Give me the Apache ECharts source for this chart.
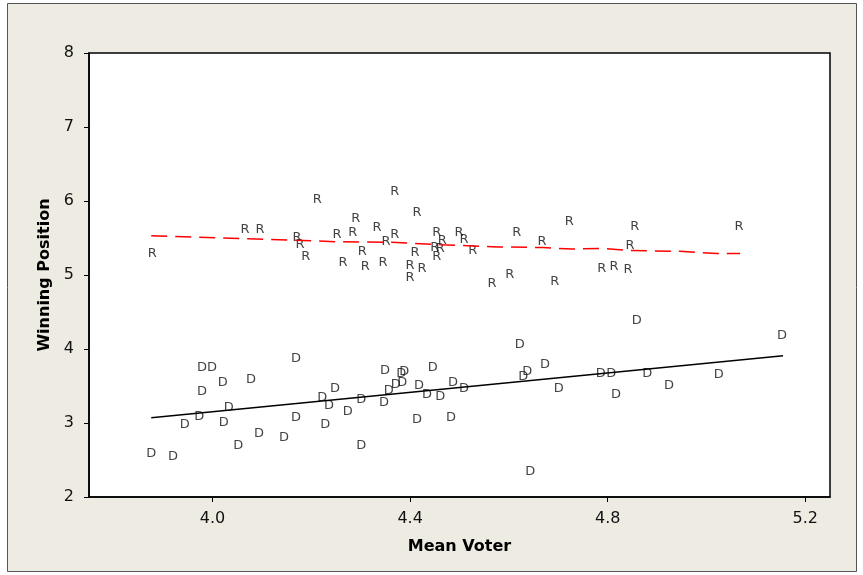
<!DOCTYPE html>
<html>
<head>
<meta charset="utf-8">
<script src="https://cdn.jsdelivr.net/npm/echarts@6/dist/echarts.min.js"></script>
<style>
html,body{margin:0;padding:0;background:#fff;}
#chart{width:863px;height:575px;}
</style>
</head>
<body>
<div id="chart"></div>
<script>
// Republican winning positions [mean voter, winning position]
const rPoints = [
  [3.878,5.29],[4.066,5.61],[4.096,5.61],[4.212,6.02],[4.171,5.51],[4.177,5.41],[4.189,5.25],
  [4.252,5.55],[4.290,5.76],[4.284,5.57],[4.264,5.17],[4.303,5.32],[4.309,5.11],[4.333,5.64],
  [4.351,5.45],[4.369,5.55],[4.345,5.17],[4.369,6.13],[4.414,5.84],[4.410,5.30],[4.400,5.13],
  [4.400,4.97],[4.424,5.09],[4.454,5.57],[4.465,5.47],[4.450,5.37],[4.461,5.36],[4.454,5.25],
  [4.499,5.57],[4.509,5.48],[4.527,5.33],[4.566,4.89],[4.602,5.01],[4.616,5.57],[4.667,5.45],
  [4.693,4.91],[4.722,5.72],[4.788,5.09],[4.813,5.11],[4.841,5.07],[4.845,5.40],[4.855,5.65],
  [5.066,5.65]
];
// Democratic winning positions
const dPoints = [
  [3.876,2.58],[3.920,2.54],[3.944,2.98],[3.973,3.09],[3.979,3.43],[3.979,3.75],[3.999,3.75],
  [4.021,3.54],[4.033,3.21],[4.023,3.01],[4.052,2.70],[4.078,3.59],[4.094,2.85],[4.145,2.80],
  [4.169,3.07],[4.169,3.87],[4.222,3.34],[4.228,2.98],[4.236,3.23],[4.248,3.47],[4.274,3.15],
  [4.301,3.31],[4.301,2.70],[4.347,3.27],[4.349,3.71],[4.357,3.44],[4.371,3.52],[4.384,3.55],
  [4.388,3.70],[4.382,3.67],[4.418,3.50],[4.414,3.04],[4.434,3.39],[4.446,3.75],[4.461,3.35],
  [4.483,3.07],[4.487,3.55],[4.509,3.46],[4.622,4.06],[4.629,3.63],[4.637,3.69],[4.673,3.79],
  [4.701,3.47],[4.643,2.34],[4.859,4.39],[4.786,3.67],[4.807,3.67],[4.817,3.39],[4.880,3.67],
  [4.924,3.50],[5.025,3.66],[5.153,4.18]
];
// Linear fit for D (endpoints)
const dFit = [[3.876,3.07],[5.155,3.91]];
// Smoothed (lowess) curve for R
const rSmooth = [
  [3.876,5.53],[3.971,5.51],[4.072,5.49],[4.167,5.47],[4.248,5.45],[4.373,5.44],[4.461,5.41],
  [4.576,5.38],[4.669,5.37],[4.728,5.35],[4.790,5.36],[4.845,5.33],[4.946,5.32],[5.021,5.29],
  [5.068,5.29]
];
const xTicks = [4.0,4.4,4.8,5.2];
const xTickLabels = ['4.0','4.4','4.8','5.2'];

const FONT = '"DejaVu Sans",Verdana,sans-serif';

function letterSeries(name, data, letter){
  return {
    name: name, type: 'scatter', data: data, symbol: 'circle', symbolSize: 2,
    itemStyle: {color: 'rgba(0,0,0,0)'},
    label: {show: true, position: 'inside', formatter: letter, color: '#111',
            fontSize: 13, fontFamily: FONT},
    emphasis: {disabled: true}, z: 3
  };
}

const chart = echarts.init(document.getElementById('chart'), null, {renderer: 'canvas'});
chart.setOption({
  animation: false,
  backgroundColor: '#ffffff',
  graphic: [{
    type: 'rect', z: -10, silent: true,
    shape: {x: 7.5, y: 3.5, width: 849, height: 568},
    style: {fill: '#EEEBE2', stroke: '#555', lineWidth: 1}
  }],
  grid: {
    left: 89, top: 53, right: 33, bottom: 78,
    show: true, backgroundColor: '#ffffff', borderColor: '#000', borderWidth: 1.5
  },
  xAxis: {
    type: 'value', min: 3.75, max: 5.25,
    name: 'Mean Voter', nameLocation: 'middle', nameGap: 42,
    nameTextStyle: {fontSize: 16, fontWeight: 'bold', color: '#000', fontFamily: FONT},
    axisLine: {show: true, onZero: false, lineStyle: {color: '#000', width: 1.5}},
    axisTick: {show: true, length: 5, customValues: xTicks, lineStyle: {color: '#000'}},
    axisLabel: {customValues: xTicks, formatter: function(v){ const i = xTicks.findIndex(t=>Math.abs(t-v)<1e-6); return i>=0 ? xTickLabels[i] : ''; },
                fontSize: 16, color: '#111', fontFamily: FONT, margin: 14},
    splitLine: {show: false}
  },
  yAxis: {
    type: 'value', min: 2, max: 8, interval: 1,
    name: 'Winning Position', nameLocation: 'middle', nameGap: 35,
    nameTextStyle: {fontSize: 16, fontWeight: 'bold', color: '#000', fontFamily: FONT},
    axisLine: {show: true, onZero: false, lineStyle: {color: '#000', width: 1.5}},
    axisTick: {show: true, length: 5, lineStyle: {color: '#000'}},
    axisLabel: {fontSize: 16, color: '#111', fontFamily: FONT, margin: 15},
    splitLine: {show: false}
  },
  series: [
    letterSeries('R', rPoints, 'R'),
    letterSeries('D', dPoints, 'D'),
    {
      name: 'D fit', type: 'line', data: dFit, showSymbol: false, symbol: 'none',
      lineStyle: {color: '#000', width: 1.5}, z: 4, emphasis: {disabled: true}
    },
    {
      name: 'R smooth', type: 'line', data: rSmooth, showSymbol: false, symbol: 'none',
      lineStyle: {color: '#FF0000', width: 1.5, type: [16, 8]}, z: 4, emphasis: {disabled: true}
    }
  ]
});
</script>
</body>
</html>
